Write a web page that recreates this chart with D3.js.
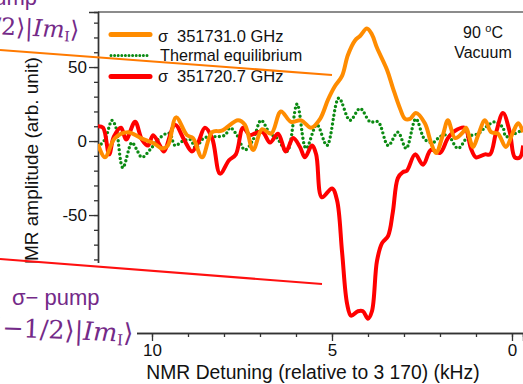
<!DOCTYPE html>
<html>
<head>
<meta charset="utf-8">
<script src="https://cdn.jsdelivr.net/npm/d3@7"></script>
<style>
  body { margin: 0; background: #fff; }
  svg { display: block; font-family: Arial, "Liberation Sans", sans-serif; }
</style>
</head>
<body>
<svg id="chart" width="523" height="384"></svg>
<script>
// NMR detuning (kHz) and amplitude
const orangeX = [11.50, 11.31, 11.03, 10.67, 10.31, 9.92, 9.72, 9.56, 9.33, 9.03, 8.86, 8.61, 8.33, 8.06, 7.61, 7.42, 7.19, 6.94, 6.69, 6.42, 6.14, 5.86, 5.58, 5.33, 5.11, 4.92, 4.72, 4.56, 4.36, 4.22, 4.03, 3.89, 3.75, 3.47, 3.31, 3.11, 2.97, 2.83, 2.67, 2.42, 2.25, 2.11, 1.92, 1.78, 1.58, 1.36, 1.28, 1.08, 0.94, 0.75, 0.58, 0.39, 0.17, -0.03, -0.17, -0.31];
const orangeY = [-2, -11, 2, 6, 2, -2, -5, -3, 16, 4, 2, -11, 6, 7, 14, 11, -6, 8, 5, 20, 13, 14, 9, 15, 28, 37, 44, 58, 68, 71, 76, 72, 63, 48, 36, 22, 15, 15, 19, 12, -1, -8, 4, 14, 2, 6, 9, -4, 4, 14, 6, 5, -4, 6, 12, 6];

const greenX = [11.50, 11.31, 11.11, 11.00, 10.81, 10.56, 10.44, 10.28, 10.06, 9.83, 9.61, 9.50, 9.36, 9.14, 8.94, 8.78, 8.61, 8.44, 8.17, 7.97, 7.83, 7.64, 7.42, 7.19, 6.97, 6.72, 6.53, 6.25, 5.97, 5.72, 5.42, 5.14, 4.81, 4.50, 4.22, 3.94, 3.72, 3.44, 3.17, 2.94, 2.67, 2.42, 2.19, 2.00, 1.78, 1.50, 1.22, 0.94, 0.75, 0.47, 0.25, 0.17, -0.08, -0.25];
const greenY = [-4, 1, 14, 9, -18, -1, -5, -11, -6, 1, 5, 5, -3, 0, 1, -5, 1, 3, 3, 4, 9, 4, -6, 1, 14, 5, 2, -7, 25, -5, 11, -3, 29, 14, 22, 13, 13, -3, 6, -5, 15, 1, -1, 3, 4, -5, 3, 5, 9, 13, 9, 3, 5, 7];

const redX = [11.50, 11.36, 11.19, 11.06, 10.86, 10.72, 10.47, 10.28, 10.11, 9.97, 9.78, 9.67, 9.36, 9.11, 8.89, 8.72, 8.53, 8.33, 8.11, 7.86, 7.67, 7.47, 7.28, 7.06, 6.92, 6.72, 6.50, 6.28, 6.08, 5.89, 5.75, 5.56, 5.44, 5.28, 5.00, 4.86, 4.72, 4.58, 4.47, 4.28, 4.14, 4.00, 3.89, 3.75, 3.61, 3.44, 3.31, 3.17, 3.03, 2.92, 2.69, 2.47, 2.25, 2.00, 1.78, 1.58, 1.31, 1.14, 1.00, 0.75, 0.61, 0.44, 0.25, 0.06, -0.08, -0.22, -0.31];
const redY = [10, 9, -9, 3, 9, 1, 13, 1, -3, 4, -3, -7, 11, 1, -7, -1, 9, 2, -22, -13, -9, 9, 4, 6, 6, -1, 5, -7, 2, -4, -11, -3, -9, -38, -32, -40, -75, -110, -118, -115, -115, -120, -115, -81, -69, -64, -48, -25, -21, -20, -9, -16, -6, -8, 2, 7, 9, -5, -11, -9, -9, 6, 19, 6, -11, -11, -3];

const xMajor = [10, 5, 0];
const yMajor = [-100, -50, 0, 50];
const legendLabels = ["351731.0 GHz", "Thermal equilibrium", "351720.7 GHz"];

const svg = d3.select('#chart');
const mLeft = 98, mRight = 523, mTop = 12, mBottom = 333;

const x = d3.scaleLinear().domain([11.5, -0.306]).range([mLeft, mRight]);
const y = d3.scaleLinear().domain([-129.7, 87.2]).range([mBottom, mTop]);

// frame top line
svg.append('line')
  .attr('x1', mLeft).attr('x2', mRight).attr('y1', mTop).attr('y2', mTop)
  .attr('stroke', '#666').attr('stroke-width', 1.3);

// axes: minor ticks first, then major with labels
const minorX = d3.range(0, 12, 1);
const minorY = d3.range(-120, 90, 10);

function styleAxis(g) {
  g.select('.domain').attr('stroke', '#333').attr('stroke-width', 1.4);
  g.selectAll('.tick line').attr('stroke', '#333').attr('stroke-width', 1.3);
  g.selectAll('.tick text').attr('fill', '#111')
    .style('font-size', '17px').style('font-family', 'Arial, "Liberation Sans", sans-serif');
}

svg.append('g')
  .attr('transform', `translate(0,${mBottom})`)
  .call(d3.axisBottom(x).tickValues(minorX).tickSize(4).tickFormat(''))
  .call(styleAxis);
svg.append('g')
  .attr('transform', `translate(0,${mBottom})`)
  .call(d3.axisBottom(x).tickValues(xMajor).tickSize(8).tickPadding(3).tickFormat(d => String(d)))
  .call(styleAxis);

svg.append('g')
  .attr('transform', `translate(${mLeft},0)`)
  .call(d3.axisLeft(y).tickValues(minorY).tickSize(4).tickFormat(''))
  .call(styleAxis);
svg.append('g')
  .attr('transform', `translate(${mLeft},0)`)
  .call(d3.axisLeft(y).tickValues(yMajor).tickSize(9).tickPadding(2).tickFormat(d => String(d)))
  .call(styleAxis);

// axis titles
svg.append('text')
  .attr('x', 313).attr('y', 379)
  .attr('text-anchor', 'middle')
  .style('font-size', '19.3px').attr('fill', '#111')
  .text('NMR Detuning (relative to 3 170) (kHz)');

svg.append('text')
  .attr('transform', 'translate(38,166) rotate(-90)')
  .attr('text-anchor', 'middle')
  .style('font-size', '19px').attr('fill', '#111')
  .text('NMR amplitude (arb. unit)');

// data lines
svg.append('clipPath').attr('id', 'plotclip')
  .append('rect').attr('x', mLeft).attr('y', 0).attr('width', mRight - mLeft).attr('height', mBottom);

const line = d3.line()
  .x(d => x(d[0]))
  .y(d => y(d[1]))
  .curve(d3.curveCatmullRom.alpha(0.5));

const plot = svg.append('g').attr('clip-path', 'url(#plotclip)');

plot.append('path')
  .datum(d3.zip(greenX, greenY))
  .attr('d', line)
  .attr('fill', 'none')
  .attr('stroke', '#0b8a12')
  .attr('stroke-width', 3.4)
  .attr('stroke-linecap', 'round')
  .attr('stroke-dasharray', '0 4.4');

plot.append('path')
  .datum(d3.zip(redX, redY))
  .attr('d', line)
  .attr('fill', 'none')
  .attr('stroke', '#ff0000')
  .attr('stroke-width', 4)
  .attr('stroke-linejoin', 'round');

plot.append('path')
  .datum(d3.zip(orangeX, orangeY))
  .attr('d', line)
  .attr('fill', 'none')
  .attr('stroke', '#ff8c00')
  .attr('stroke-width', 4)
  .attr('stroke-linejoin', 'round');

// legend
const legend = svg.append('g');
const legendRows = [
  { y: 34.5, base: 41.5, color: '#ff8c00', dotted: false, sigma: true },
  { y: 55.5, base: 61, color: '#0b8a12', dotted: true, sigma: false },
  { y: 76.5, base: 82, color: '#ff0000', dotted: false, sigma: true }
];
legendRows.forEach((r, i) => {
  legend.append('line')
    .attr('x1', 111).attr('x2', 150).attr('y1', r.y).attr('y2', r.y)
    .attr('stroke', r.color)
    .attr('stroke-width', r.dotted ? 3 : 5)
    .attr('stroke-linecap', 'round')
    .attr('stroke-dasharray', r.dotted ? '0 3.6' : null);
  if (r.sigma) {
    legend.append('text').attr('x', 158).attr('y', r.base)
      .style('font-size', '16.5px').attr('fill', '#111').text('σ');
    legend.append('text').attr('x', 177).attr('y', r.base)
      .style('font-size', '16.5px').attr('fill', '#111').text(legendLabels[i]);
  } else {
    legend.append('text').attr('x', 160).attr('y', r.base)
      .style('font-size', '16.2px').attr('fill', '#111').text(legendLabels[i]);
  }
});

// condition note
const note = svg.append('text').attr('x', 483).attr('y', 38)
  .attr('text-anchor', 'middle').style('font-size', '16px').attr('fill', '#111');
note.append('tspan').text('90 ');
note.append('tspan').attr('dy', -6).style('font-size', '11px').text('o');
note.append('tspan').attr('dy', 6).text('C');
svg.append('text').attr('x', 483).attr('y', 58)
  .attr('text-anchor', 'middle').style('font-size', '16px').attr('fill', '#111')
  .text('Vacuum');

// overlaid annotation: white backing of the lower label
svg.append('rect')
  .attr('x', 0).attr('y', 263).attr('width', 137).attr('height', 121)
  .attr('fill', '#fff');

// annotation pointer lines
svg.append('line')
  .attr('x1', 0).attr('y1', 50).attr('x2', 332).attr('y2', 75)
  .attr('stroke', '#ff7a00').attr('stroke-width', 2);
svg.append('line')
  .attr('x1', 0).attr('y1', 259).attr('x2', 322).attr('y2', 284)
  .attr('stroke', '#ff1010').attr('stroke-width', 2);

// annotation text
const purple = '#742a88';
svg.append('text')
  .attr('x', 37).attr('y', 5).attr('text-anchor', 'end')
  .style('font-size', '22px').attr('fill', purple)
  .text('pump');

function ketText(xEnd, yBase, prefix, size) {
  const t = svg.append('text')
    .attr('transform', `translate(${xEnd},${yBase}) rotate(2.5)`)
    .attr('text-anchor', 'end')
    .style('font-family', '"DejaVu Serif", "Liberation Serif", serif')
    .style('font-style', 'italic')
    .style('font-size', size + 'px')
    .attr('fill', purple);
  t.append('tspan').style('font-style', 'normal').text(prefix + '⟩|');
  t.append('tspan').text('Im');
  t.append('tspan').attr('dy', 4).style('font-size', (size * 0.6) + 'px').style('font-style', 'normal').text('I');
  t.append('tspan').attr('dy', -4).style('font-style', 'normal').text('⟩');
  return t;
}
ketText(79, 38, '|+1/2', 23.5);

svg.append('text')
  .attr('x', 12).attr('y', 305)
  .style('font-size', '22px').attr('fill', purple)
  .text('σ− pump');
ketText(133, 342, '|−1/2', 25.5);
</script>
</body>
</html>
